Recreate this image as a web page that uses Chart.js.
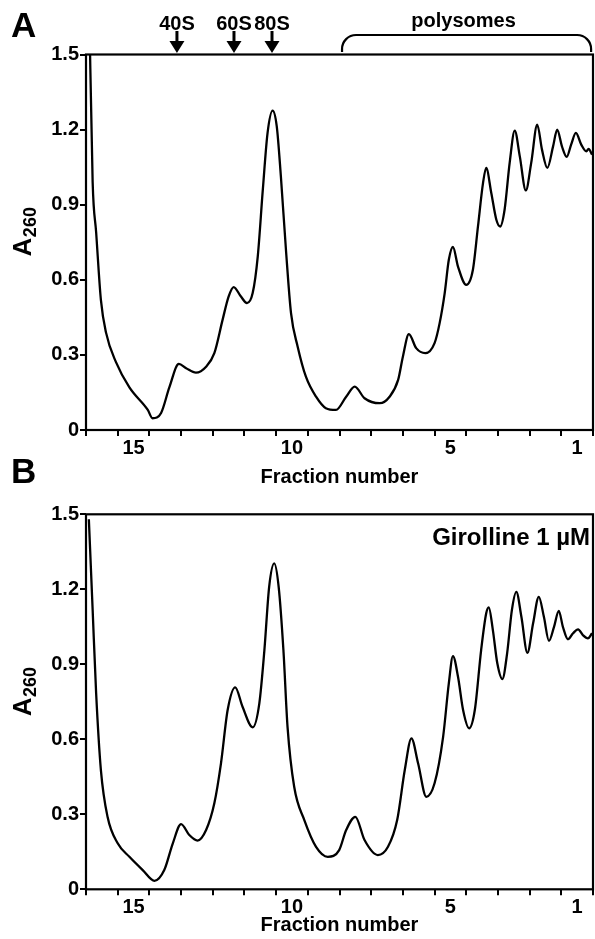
<!DOCTYPE html>
<html>
<head>
<meta charset="utf-8">
<script src="https://cdn.jsdelivr.net/npm/chart.js@4.4.1/dist/chart.umd.min.js"></script>
<style>
  html, body { margin: 0; padding: 0; background: #fff; }
  body { position: relative; width: 595px; height: 939px; overflow: hidden; }
  canvas { position: absolute; left: 0; }
  #chartA { top: 0; }
  #chartB { top: 440px; }
</style>
</head>
<body>
<canvas id="chartA" width="595" height="490"></canvas>
<canvas id="chartB" width="595" height="499"></canvas>
<script>
// fraction numbers (one slot each) and the ones that get a label
const fractionNumbers = [1, 2, 3, 4, 5, 6, 7, 8, 9, 10, 11, 12, 13, 14, 15, 16];
const labelledFractions = [15, 10, 5, 1];
const yTicks = [0, 0.3, 0.6, 0.9, 1.2, 1.5];

// panel A: control profile (x = fraction position, y = A260)
const fractionA = [16.40, 16.29, 16.18, 16.03, 15.87, 15.55, 15.13, 14.55, 14.40, 14.13, 13.87, 13.57, 13.34, 13.03,
  12.71, 12.45, 12.19, 12.00, 11.84, 11.61, 11.42, 11.24, 11.08, 10.92, 10.77, 10.61, 10.48, 10.35, 10.19, 10.03,
  9.82, 9.56, 9.24, 8.93, 8.61, 8.29, 8.02, 7.71, 7.23, 6.92, 6.65, 6.50, 6.31, 6.08, 5.79, 5.50, 5.34, 5.18, 5.05,
  4.92, 4.76, 4.50, 4.29, 4.13, 3.97, 3.87, 3.71, 3.55, 3.43, 3.29, 3.13, 2.97, 2.81, 2.62, 2.45, 2.26, 2.11, 1.94,
  1.76, 1.63, 1.48, 1.33, 1.19, 1.04, 0.87, 0.71, 0.64, 0.53];
const absorbanceA = [1.70, 0.99, 0.79, 0.52, 0.39, 0.27, 0.17, 0.08, 0.047, 0.068, 0.17, 0.264, 0.247, 0.229,
  0.253, 0.307, 0.44, 0.533, 0.571, 0.533, 0.507, 0.547, 0.693, 0.96, 1.187, 1.276, 1.213, 1.013, 0.72, 0.467,
  0.333, 0.213, 0.133, 0.087, 0.08, 0.133, 0.173, 0.127, 0.107, 0.133, 0.2, 0.293, 0.383, 0.327, 0.307, 0.347, 0.427, 0.547, 0.68,
  0.731, 0.653, 0.58, 0.64, 0.813, 0.987, 1.047, 0.947, 0.84, 0.813, 0.88, 1.067, 1.196, 1.093, 0.957, 1.067, 1.22, 1.12, 1.047,
  1.133, 1.2, 1.133, 1.091, 1.14, 1.187, 1.14, 1.113, 1.123, 1.1];

// panel B: Girolline 1 µM
const fractionB = [16.41, 16.29, 16.18, 16.03, 15.82, 15.50, 15.13, 14.71, 14.34, 14.03, 13.76, 13.50, 13.24, 12.98,
  12.71, 12.45, 12.24, 12.03, 11.79, 11.56, 11.24, 11.03, 10.87, 10.72, 10.56, 10.42, 10.27, 10.14, 9.93,
  9.61, 9.24, 8.87, 8.51, 8.29, 8.00, 7.71, 7.29, 6.97, 6.68, 6.44, 6.23, 6.02, 5.76, 5.50, 5.23, 5.05,
  4.92, 4.76, 4.60, 4.41, 4.23, 4.03, 3.87, 3.79, 3.66, 3.52, 3.36, 3.21, 3.06, 2.92, 2.76, 2.57, 2.39, 2.21, 2.05,
  1.89, 1.73, 1.58, 1.45, 1.29, 1.13, 0.97, 0.82, 0.66, 0.53];
const absorbanceB = [1.48, 1.117, 0.784, 0.477, 0.29, 0.184, 0.13, 0.077, 0.034, 0.077, 0.184, 0.261, 0.217, 0.195,
  0.237, 0.344, 0.504, 0.717, 0.808, 0.73, 0.648, 0.744, 0.957, 1.21, 1.304, 1.21, 0.957, 0.65, 0.41,
  0.277, 0.17, 0.13, 0.157, 0.237, 0.29, 0.197, 0.137, 0.17, 0.277, 0.477, 0.604, 0.504, 0.37, 0.424, 0.61, 0.824,
  0.933, 0.85, 0.717, 0.644, 0.717, 0.957, 1.104, 1.128, 1.037, 0.904, 0.841, 0.944, 1.117, 1.19, 1.09, 0.946, 1.064, 1.17, 1.09,
  0.994, 1.05, 1.114, 1.05, 1.0, 1.024, 1.04, 1.017, 1.004, 1.024];

// subunit markers and polysome range (fraction positions) on panel A
const markerLabels = ['40S', '60S', '80S'];
const markerFractions = [13.63, 11.83, 10.63];
const polysomeRange = [8.42, 0.56];

const FONT = '"Liberation Sans", Arial, Helvetica, sans-serif';
Chart.defaults.font.family = FONT;
Chart.defaults.color = '#000';

function toPoints(xs, ys) {
  return xs.map((x, i) => ({ x: x, y: ys[i] }));
}

// frame, panel letter, A260 title and the annotations
const panelDecor = {
  id: 'panelDecor',
  afterDraw(chart, args, opts) {
    const ctx = chart.ctx;
    const area = chart.chartArea;
    const xs = chart.scales.x;
    ctx.save();
    ctx.strokeStyle = '#000';
    ctx.fillStyle = '#000';
    ctx.lineWidth = 2.2;
    ctx.strokeRect(area.left, area.top, area.right - area.left, area.bottom - area.top);

    ctx.font = 'bold 35px ' + FONT;
    ctx.textAlign = 'left';
    ctx.textBaseline = 'alphabetic';
    ctx.fillText(opts.letter, 11, opts.letterY);

    // A260 with subscript, rotated
    ctx.font = 'bold 26px ' + FONT;
    const wA = ctx.measureText('A').width;
    ctx.font = 'bold 18px ' + FONT;
    const wSub = ctx.measureText('260').width;
    const mid = area.top + 177.5;
    ctx.save();
    ctx.translate(31, mid + (wA + wSub) / 2);
    ctx.rotate(-Math.PI / 2);
    ctx.font = 'bold 26px ' + FONT;
    ctx.fillText('A', 0, 0);
    ctx.font = 'bold 18px ' + FONT;
    ctx.fillText('260', wA + 0.5, 5);
    ctx.restore();

    if (opts.markers) {
      ctx.font = 'bold 20px ' + FONT;
      ctx.textAlign = 'center';
      markerLabels.forEach((label, i) => {
        const px = xs.getPixelForValue(markerFractions[i]);
        ctx.fillText(label, px, 30);
        ctx.lineWidth = 3;
        ctx.beginPath();
        ctx.moveTo(px, 31);
        ctx.lineTo(px, 43);
        ctx.stroke();
        ctx.beginPath();
        ctx.moveTo(px - 7.5, 41);
        ctx.lineTo(px + 7.5, 41);
        ctx.lineTo(px, 53);
        ctx.closePath();
        ctx.fill();
      });
      const x1 = xs.getPixelForValue(polysomeRange[0]);
      const x2 = xs.getPixelForValue(polysomeRange[1]);
      const top = 35, bot = 52, r = 14;
      ctx.lineWidth = 2.2;
      ctx.beginPath();
      ctx.moveTo(x1, bot);
      ctx.arcTo(x1, top, x1 + r, top, r);
      ctx.arcTo(x2, top, x2, top + r, r);
      ctx.lineTo(x2, bot);
      ctx.stroke();
      ctx.fillText('polysomes', (x1 + x2) / 2 - 3, 27);
    }

    if (opts.note) {
      ctx.font = 'bold 24px ' + FONT;
      ctx.textAlign = 'right';
      ctx.fillText(opts.note, area.right - 3, area.top + 31);
    }
    ctx.restore();
  }
};

function makePanel(canvasId, xs, ys, layout, decor) {
  const tickFont = { family: FONT, size: 20, weight: 'bold' };
  return new Chart(document.getElementById(canvasId), {
    type: 'line',
    data: {
      datasets: [{
        data: toPoints(xs, ys),
        borderColor: '#000',
        borderWidth: 2.3,
        pointRadius: 0,
        fill: false,
        tension: 0.4,
        cubicInterpolationMode: 'monotone'
      }]
    },
    options: {
      responsive: false,
      animation: false,
      layout: { padding: { top: layout.top, right: 2, bottom: 0, left: 0 } },
      plugins: {
        legend: { display: false },
        tooltip: { enabled: false },
        panelDecor: decor
      },
      scales: {
        x: {
          type: 'linear',
          reverse: true,
          min: 0.5,
          max: 16.5,
          afterBuildTicks: (axis) => { axis.ticks = fractionNumbers.map(v => ({ value: v })); },
          afterFit: (axis) => { axis.height = layout.xHeight; },
          border: { display: false },
          grid: { offset: true, drawOnChartArea: false, drawTicks: true, tickLength: 6, lineWidth: 2, color: '#000' },
          ticks: {
            autoSkip: false, maxRotation: 0, padding: 0, color: '#000', font: tickFont,
            callback: (v) => labelledFractions.includes(v) ? String(v) : ''
          },
          title: {
            display: true, text: 'Fraction number', color: '#000',
            font: { family: FONT, size: 20, weight: 'bold' },
            padding: { top: 0, bottom: layout.titlePad }
          }
        },
        y: {
          type: 'linear',
          min: 0,
          max: 1.5,
          afterBuildTicks: (axis) => { axis.ticks = yTicks.map(v => ({ value: v })); },
          afterFit: (axis) => { axis.width = 86; },
          border: { display: false },
          grid: { drawOnChartArea: false, drawTicks: true, tickLength: 6, lineWidth: 2, color: '#000' },
          ticks: {
            padding: 1, color: '#000', font: tickFont,
            callback: (v) => v === 0 ? '0' : v.toFixed(1)
          }
        }
      }
    },
    plugins: [panelDecor]
  });
}

window.addEventListener('DOMContentLoaded', () => {
  makePanel('chartA', fractionA, absorbanceA,
    { top: 54.5, xHeight: 60, titlePad: 0.5 },
    { letter: 'A', letterY: 37, markers: true });
  makePanel('chartB', fractionB, absorbanceB,
    { top: 74.3, xHeight: 49.7, titlePad: 1.5 },
    { letter: 'B', letterY: 43, note: 'Girolline 1 µM' });
});
</script>
</body>
</html>
